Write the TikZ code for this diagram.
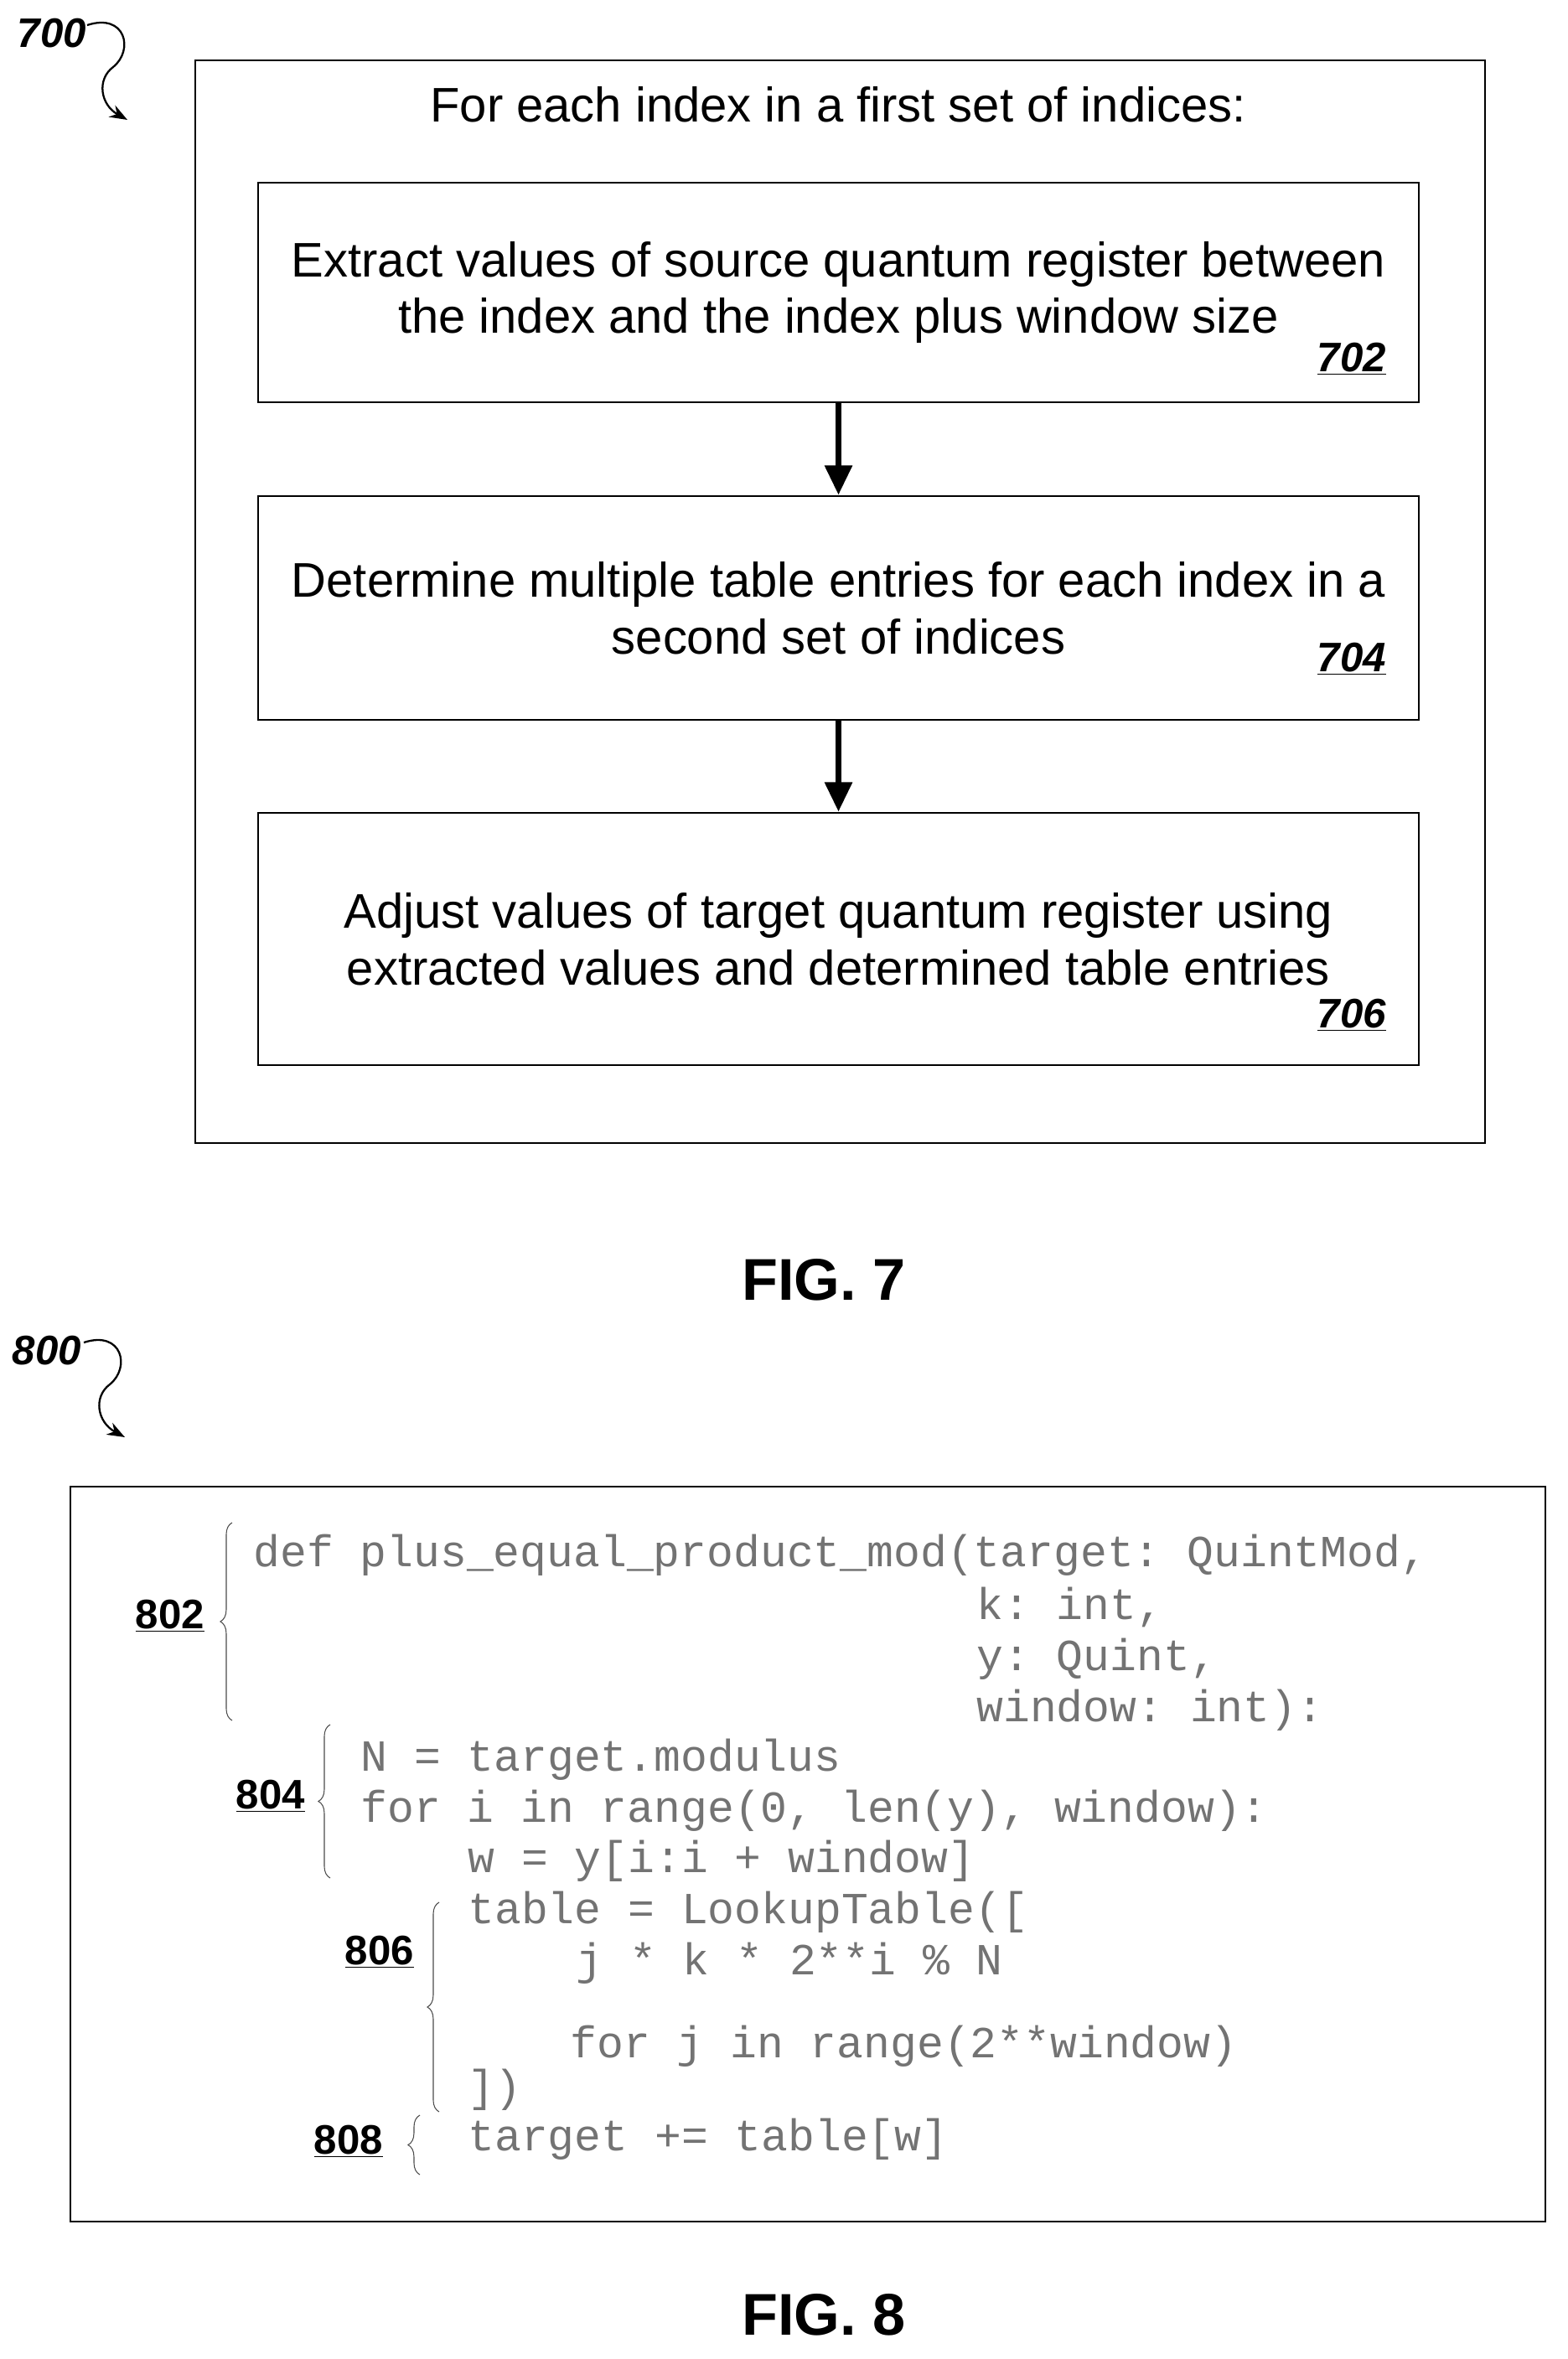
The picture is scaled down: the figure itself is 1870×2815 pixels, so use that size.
\documentclass[tikz,border=0pt]{standalone}
\usepackage{fontspec}
\setmainfont{Liberation Sans}
\setmonofont{Liberation Mono}
\usetikzlibrary{arrows.meta,decorations.pathreplacing}
\begin{document}
\begin{tikzpicture}[x=0.02cm,y=0.02cm,
  box/.style={draw,line width=1.6pt,minimum width=1385*0.02cm,align=center,font=\fontsize{33}{38.6}\selectfont},
  num/.style={font=\fontsize{28}{30}\selectfont\bfseries\itshape,anchor=base east},
  lab/.style={font=\fontsize{28}{30}\selectfont\bfseries,anchor=base east},
  code/.style={font=\fontsize{30.2}{30}\selectfont\ttfamily,text=black!55,anchor=base west,inner sep=0},
  arr/.style={-{Triangle[length=20pt,width=18pt]},line width=4pt},
  br/.style={decorate,decoration={brace,amplitude=8pt},line width=0.6pt,draw=black!70}]
\useasboundingbox (0,0) rectangle (1870,-2815);
% FIG 7
\node[draw,line width=1.6pt,minimum width=1539*0.02cm,minimum height=1292*0.02cm] (outer) at (1002.5,-718) {};
\node[font=\fontsize{33}{38}\selectfont] (title) at (1000,-125) {For each index in a first set of indices:};
\node[box,minimum height=262*0.02cm] (b702) at (1000.5,-349) {Extract values of source quantum register between\\the index and the index plus window size};
\node[box,minimum height=267*0.02cm] (b704) at (1000.5,-725.5) {Determine multiple table entries for each index in a\\second set of indices};
\node[box,minimum height=301*0.02cm] (b706) at (1000.5,-1120.5) {Adjust values of target quantum register using\\extracted values and determined table entries};
\node[num] (n702) at (1660,-443) {\underline{702}};
\node[num] (n704) at (1660,-801) {\underline{704}};
\node[num] (n706) at (1660,-1226) {\underline{706}};
\draw[arr] (b702) -- (b704);
\draw[arr] (b704) -- (b706);
\node[font=\fontsize{28}{30}\selectfont\bfseries\itshape] (l700) at (62,-40) {700};
\coordinate (s700) at (104,-30);
\coordinate (e700) at (152,-143);
\draw[line width=1.3pt,-{Stealth[length=12pt]}] (s700) .. controls (150,-15) and (160,-60) .. (135,-80) .. controls (115,-95) and (120,-125) .. (e700);
\node[font=\fontsize{40}{44}\selectfont\bfseries] (fig7) at (983,-1527) {FIG. 7};
% FIG 8
\node[font=\fontsize{28}{30}\selectfont\bfseries\itshape] (l800) at (56,-1612) {800};
\coordinate (s800) at (100,-1602);
\coordinate (e800) at (149,-1715);
\draw[line width=1.3pt,-{Stealth[length=12pt]}] (s800) .. controls (146,-1587) and (156,-1632) .. (131,-1652) .. controls (111,-1667) and (116,-1697) .. (e800);
\node[draw,line width=1.6pt,minimum width=1760*0.02cm,minimum height=877*0.02cm] (box8) at (964,-2212.5) {};
\node[code] (c1) at (302,-1869) {def plus\_equal\_product\_mod(target: QuintMod,};
\node[code] (c2) at (1165,-1932) {k: int,};
\node[code] (c3) at (1165,-1993) {y: Quint,};
\node[code] (c4) at (1165,-2054) {window: int):};
\node[code] (c5) at (430,-2113) {N = target.modulus};
\node[code] (c6) at (430,-2174) {for i in range(0, len(y), window):};
\node[code] (c7) at (558,-2234) {w = y[i:i + window]};
\node[code] (c8) at (558,-2295) {table = LookupTable([};
\node[code] (c9) at (687,-2356) {j * k * 2**i \% N};
\node[code] (c10) at (680,-2455) {for j in range(2**window)};
\node[code] (c11) at (558,-2507) {])};
\node[code] (c12) at (558,-2566) {target += table[w]};
\draw[br] (277,-2053) coordinate (b802a) -- (277,-1817) coordinate (b802b);
\draw[br] (394,-2241) coordinate (b804a) -- (394,-2058) coordinate (b804b);
\draw[br] (524,-2520) coordinate (b806a) -- (524,-2270) coordinate (b806b);
\draw[br] (501,-2595) coordinate (b808a) -- (501,-2524) coordinate (b808b);
\node[lab] (l802) at (250,-1943) {\underline{802}};
\node[lab] (l804) at (370,-2158) {\underline{804}};
\node[lab] (l806) at (500,-2344) {\underline{806}};
\node[lab] (l808) at (463,-2570) {\underline{808}};
\node[font=\fontsize{40}{44}\selectfont\bfseries] (fig8) at (983,-2762) {FIG. 8};
\end{tikzpicture}
\end{document}
